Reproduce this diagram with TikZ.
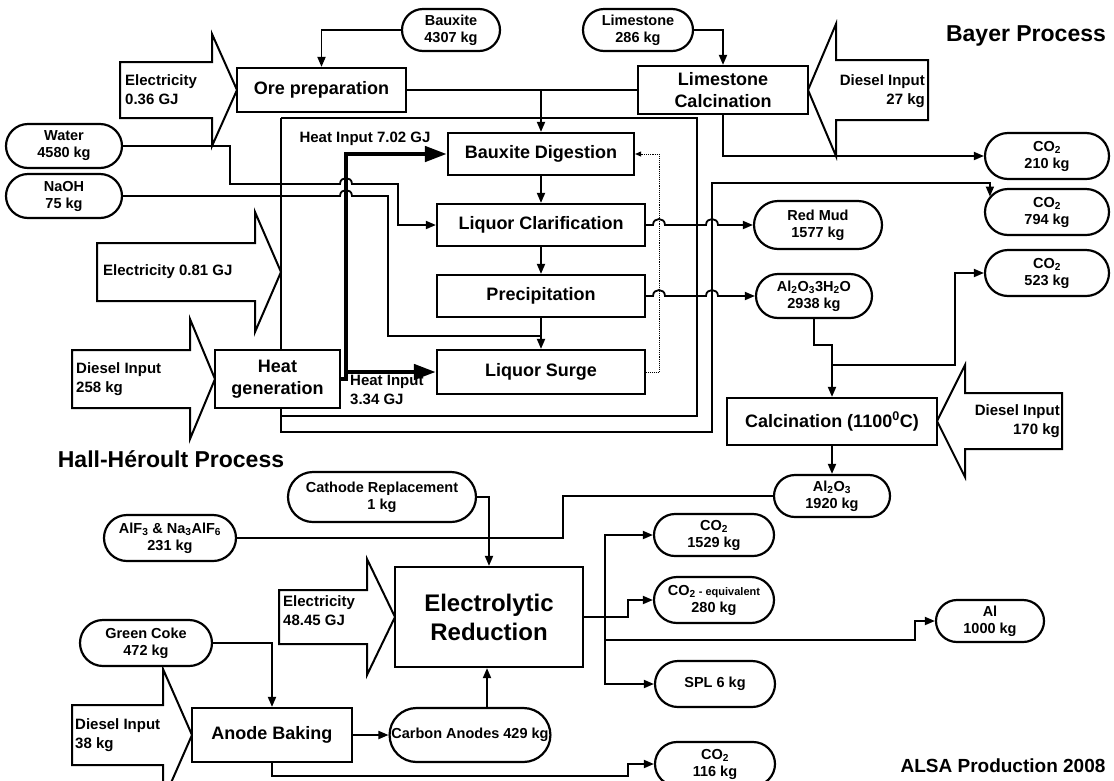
\documentclass[tikz,border=0pt]{standalone}
\usepackage{fontspec}
\setmainfont{Liberation Sans}
\usetikzlibrary{shapes.misc,arrows.meta,calc}
\pgfdeclarelayer{bg}
\pgfsetlayers{bg,main}
\tikzset{
  pill/.style={rounded rectangle, draw, line width=2.2pt, fill=white, align=center, inner sep=1pt,
    font=\bfseries\fontsize{14.5}{17}\selectfont},
  box/.style={rectangle, draw, line width=2.2pt, fill=white, align=center, inner sep=0pt,
    font=\bfseries\fontsize{18}{22}\selectfont},
  lbl/.style={inner sep=0pt, font=\bfseries\fontsize{15}{19}\selectfont},
  ttl/.style={inner sep=0pt, font=\bfseries\fontsize{23}{26}\selectfont},
  blk/.style={draw, line width=2pt, fill=white, line join=miter},
  conn/.style={line width=1.8pt},
  arr/.style={conn, -{Triangle[length=10pt,width=8pt]}},
  heat/.style={line width=4.5pt, -{Triangle[length=22pt,width=15pt]}},
  dotarr/.style={line width=0.9pt, densely dotted, -{Triangle[length=6pt,width=5pt]}}
}
% back x, base x, tip x, centre y, body half height, head half height
\newcommand\myblockarrow[6]{\draw[blk] (#1,{#4-#5}) -- (#2,{#4-#5}) -- (#2,{#4-#6}) -- (#3,#4) -- (#2,{#4+#6}) -- (#2,{#4+#5}) -- (#1,{#4+#5}) -- cycle;}
\begin{document}
\begin{tikzpicture}[x=1pt,y=-1pt]
\useasboundingbox (0,0) rectangle (1114,780);
\begin{pgfonlayer}{bg}
\fill[white] (0,0) rectangle (1114,780);
\end{pgfonlayer}

% block arrows
\myblockarrow{120}{212}{237}{90}{28}{56}
\myblockarrow{928}{836}{808}{90}{30}{66}
\myblockarrow{97}{255}{281}{272}{29}{60}
\myblockarrow{72}{190}{215}{379}{29}{60}
\myblockarrow{1062}{965}{937}{421}{28}{56}
\myblockarrow{279}{367}{395}{617}{27}{58}
\myblockarrow{72}{163}{192}{735}{30}{66}

\node[lbl, anchor=west, align=left] (e1l) at (125,90) {Electricity\\0.36 GJ};
\node[lbl, anchor=east, align=right] (d1l) at (925,91) {Diesel Input\\27 kg};
\node[lbl, anchor=west] (e2l) at (103,272) {Electricity 0.81 GJ};
\node[lbl, anchor=west, align=left] (d2l) at (76,379) {Diesel Input\\258 kg};
\node[lbl, anchor=east, align=right] (d3l) at (1060,421) {Diesel Input\\170 kg};
\node[lbl, anchor=west, align=left] (e3l) at (283,611) {Electricity\\48.45 GJ};
\node[lbl, anchor=west, align=left] (d4l) at (75,735) {Diesel Input\\38 kg};

% titles
\node[ttl] (bayer) at (1026,36) {Bayer Process};
\node[ttl] (hall) at (171,459) {Hall-Héroult Process};
\node[ttl, font=\bfseries\fontsize{19}{22}\selectfont] (alsa) at (1003,766) {ALSA Production 2008};

% boxes
\node[box, minimum width=169pt, minimum height=44pt] (orep) at (321.5,90) {Ore preparation};
\node[box, minimum width=170pt, minimum height=48pt] (limecalc) at (723,90) {Limestone\\Calcination};
\node[box, minimum width=186pt, minimum height=42pt] (dig) at (541,154) {Bauxite Digestion};
\node[box, minimum width=208pt, minimum height=42pt] (clar) at (541,225) {Liquor Clarification};
\node[box, minimum width=208pt, minimum height=42pt] (prec) at (541,296) {Precipitation};
\node[box, minimum width=208pt, minimum height=44pt] (surge) at (541,372) {Liquor Surge};
\node[box, minimum width=125pt, minimum height=58pt] (heatgen) at (277.5,379) {Heat\\generation};
\node[box, minimum width=210pt, minimum height=47pt] (calc) at (832,421.5) {Calcination (1100\textsuperscript{0}C)};
\node[box, minimum width=188pt, minimum height=100pt, font=\bfseries\fontsize{24}{29}\selectfont] (elec) at (489,617) {Electrolytic\\Reduction};
\node[box, minimum width=160pt, minimum height=54pt] (anode) at (272,735) {Anode Baking};

% pills
\node[pill, minimum width=100pt, minimum height=42pt] (bauxite) at (451,30) {Bauxite\\4307 kg};
\node[pill, minimum width=112pt, minimum height=42pt] (limestone) at (638,30) {Limestone\\286 kg};
\node[pill, minimum width=118pt, minimum height=44pt] (water) at (64,146) {Water\\4580 kg};
\node[pill, minimum width=118pt, minimum height=44pt] (naoh) at (64,196) {NaOH\\75 kg};
\node[pill, minimum width=126pt, minimum height=46pt] (co2a) at (1047,156) {CO\textsubscript{2}\\210 kg};
\node[pill, minimum width=126pt, minimum height=46pt] (co2b) at (1047,212) {CO\textsubscript{2}\\794 kg};
\node[pill, minimum width=126pt, minimum height=46pt] (co2c) at (1047,273) {CO\textsubscript{2}\\523 kg};
\node[pill, minimum width=130pt, minimum height=48pt] (redmud) at (818,225) {Red Mud\\1577 kg};
\node[pill, minimum width=118pt, minimum height=44pt] (hydrate) at (814,296) {Al\textsubscript{2}O\textsubscript{3}3H\textsubscript{2}O\\2938 kg};
\node[pill, minimum width=118pt, minimum height=42pt] (alumina) at (832,496) {Al\textsubscript{2}O\textsubscript{3}\\1920 kg};
\node[pill, minimum width=190pt, minimum height=50pt] (cathode) at (382,497) {Cathode Replacement\\1 kg};
\node[pill, minimum width=134pt, minimum height=46pt] (alf) at (170,538) {AlF\textsubscript{3} \& Na\textsubscript{3}AlF\textsubscript{6}\\231 kg};
\node[pill, minimum width=122pt, minimum height=42pt] (co2d) at (714,535) {CO\textsubscript{2}\\1529 kg};
\node[pill, minimum width=122pt, minimum height=46pt] (co2e) at (714,600) {CO\textsubscript{2}{\fontsize{11}{12}\selectfont\ - equivalent}\\280 kg};
\node[pill, minimum width=110pt, minimum height=42pt] (al) at (990,621) {Al\\1000 kg};
\node[pill, minimum width=122pt, minimum height=46pt] (spl) at (715,684) {SPL 6 kg};
\node[pill, minimum width=134pt, minimum height=46pt] (greencoke) at (146,643) {Green Coke\\472 kg};
\node[pill, minimum width=154pt, minimum height=54pt] (carbon) at (470,735) {Carbon Anodes 429 kg};
\node[pill, minimum width=122pt, minimum height=44pt] (co2f) at (715,764) {CO\textsubscript{2}\\116 kg};

\node[lbl] (h1) at (365,139) {Heat Input 7.02 GJ};
\node[lbl, anchor=west, align=left] (h2) at (350,390) {Heat Input\\3.34 GJ};

\coordinate (lt) at (281,118);
\coordinate (co2bin) at ($(co2b.west)+(6,-15.5)$);
\coordinate (cu) at ($(carbon.north)+(17,0)$);

\begin{pgfonlayer}{bg}
% Bayer top
\draw[arr] (bauxite.west) -| (orep.north);
\draw[arr] (limestone.east) -| (limecalc.north);
\draw[arr] (orep.east) -| (dig.north);
\draw[conn] (limecalc.west) -- (limecalc.west -| dig.north);
\draw[arr] (limecalc.south) |- (co2a.west);
% service loops
\draw[conn] (lt) -- (697,118) -- (697,416) -- (281,416);
\draw[arr] (lt) -- (281,432) -- (712,432) -- (712,183) -- (co2bin |- 0,183) -- (co2bin);
% water and NaOH
\draw[arr] (water.east) -- (230,146) -- (230,184) -- (340,184) .. controls (340,176) and (352,176) .. (352,184) -- (398,184) |- (clar.west);
\draw[conn] (naoh.east) -- (340,196) .. controls (340,188) and (352,188) .. (352,196) -- (388,196) |- (prec.south |- 0,336);
% heat
\draw[heat] (heatgen.east) -- (346,379) |- (dig.west);
\draw[heat] (346,372) -- (surge.west);
% digestion chain
\draw[arr] (dig.south) -- (clar.north);
\draw[arr] (clar.south) -- (prec.north);
\draw[arr] (prec.south) -- (surge.north);
\draw[dotarr] (surge.east) -- (659,372) |- (dig.east);
% outputs
\draw[arr] (clar.east) -- (653,225) .. controls (653,217) and (665,217) .. (665,225) -- (706,225) .. controls (706,217) and (718,217) .. (718,225) -- (redmud.west);
\draw[arr] (prec.east) -- (653,296) .. controls (653,288) and (665,288) .. (665,296) -- (706,296) .. controls (706,288) and (718,288) .. (718,296) -- (hydrate.west);
\draw[arr] (hydrate.south) -- (hydrate.south |- 0,345) -- (calc.north |- 0,345) -- (calc.north);
\draw[arr] (calc.north |- 0,365) -- (955,365) |- (co2c.west);
\draw[arr] (calc.south) -- (alumina.north);
% Hall-Heroult
\draw[conn] (alumina.west) -| (563,538) -- (elec.north |- 0,538);
\draw[arr] (cathode.east) -| (elec.north);
\draw[conn] (alf.east) -- (elec.north |- alf.east);
\draw[conn] (elec.east) -- (605,617);
\draw[arr] (605,617) |- (co2d.west);
\draw[arr] (605,617) |- (spl.west);
\draw[arr] (605,617) -- (628,617) |- (co2e.west);
\draw[arr] (605,640) -- (915,640) |- (al.west);
\draw[arr] (greencoke.east) -| (anode.north);
\draw[arr] (anode.east) -- (carbon.west);
\draw[arr] (cu) -- (cu |- elec.south);
\draw[arr] (anode.south) -- (anode.south |- 0,776) -- (628,776) |- (co2f.west);
\end{pgfonlayer}
\end{tikzpicture}
\end{document}
